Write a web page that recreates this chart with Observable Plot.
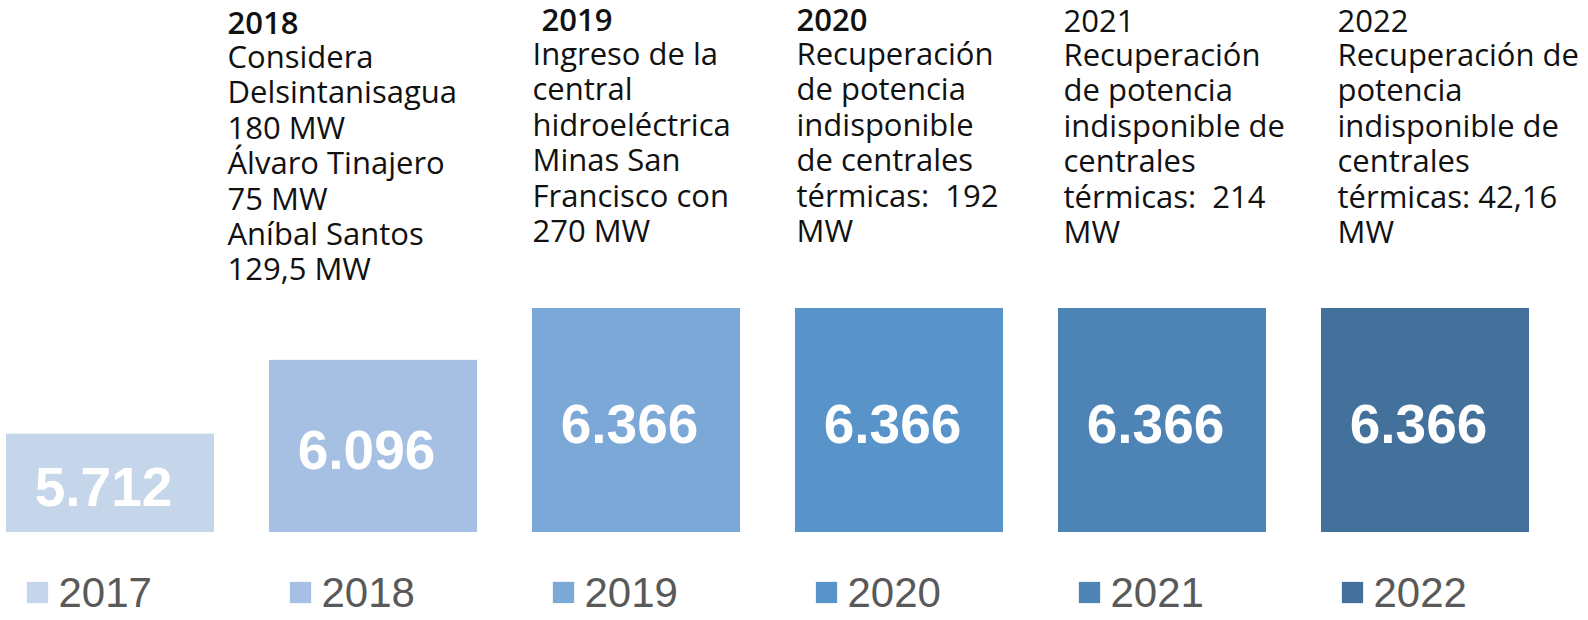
<!DOCTYPE html>
<html><head><meta charset="utf-8">
<script src="https://cdn.jsdelivr.net/npm/d3@7"></script>
<script src="https://cdn.jsdelivr.net/npm/@observablehq/plot@0.6"></script>
<style>body{margin:0;background:#fff} svg{display:block}</style>
</head><body><div id="chart"></div>
<script>
const years = ["2017", "2018", "2019", "2020", "2021", "2022"];
const values = [5.712, 6.096, 6.366, 6.366, 6.366, 6.366];
const valueLabels = ["5.712", "6.096", "6.366", "6.366", "6.366", "6.366"];
const colors = ["#c5d5ea", "#a5c0e3", "#7ca8d8", "#5893c9", "#4e84b5", "#43719b"];
const noteHeads = [null, "2018", "2019", "2020", "2021", "2022"];
const noteBodies = [
  null,
  "Considera\nDelsintanisagua\n180 MW\nÁlvaro Tinajero\n75 MW\nAníbal Santos\n129,5 MW",
  "Ingreso de la\ncentral\nhidroeléctrica\nMinas San\nFrancisco con\n270 MW",
  "Recuperación\nde potencia\nindisponible\nde centrales\ntérmicas:  192\nMW",
  "Recuperación\nde potencia\nindisponible de\ncentrales\ntérmicas:  214\nMW",
  "Recuperación de\npotencia\nindisponible de\ncentrales\ntérmicas: 42,16\nMW"
];

const data = years.map((year, i) => ({year, value: values[i], label: valueLabels[i]}));
const notes = years.map((year, i) => ({year, head: noteHeads[i], body: noteBodies[i]})).filter(d => d.head);

const yMin = 5.2;
const noteFont = 31;
const lineH = 35.4;
const noteDx = {"2018": -146, "2019": -104, "2020": -103, "2021": -99, "2022": -88};
const headDx = {"2019": 9};
const noteTop = {"2018": -297, "2019": -300, "2020": -300, "2021": -299, "2022": -299};
const boldHead = new Set(["2018", "2019", "2020"]);

const noteMarks = notes.flatMap(d => [
  Plot.text([d], {
    x: "year", text: "head", frameAnchor: "top", lineAnchor: "top",
    dy: noteTop[d.year], dx: noteDx[d.year] + (headDx[d.year] || 0),
    textAnchor: "start", fontSize: noteFont, fontWeight: boldHead.has(d.year) ? 600 : 400,
    fontFamily: "Open Sans", fill: "#111"
  }),
  Plot.text([d], {
    x: "year", text: "body", frameAnchor: "top", lineAnchor: "top",
    dy: noteTop[d.year] + lineH - 4, dx: noteDx[d.year],
    textAnchor: "start", fontSize: noteFont, lineHeight: lineH / noteFont,
    fontFamily: "Open Sans", fill: "#111"
  })
]);

const chart = Plot.plot({
  width: 1588,
  height: 620,
  marginTop: 308,
  marginBottom: 88,
  marginLeft: 4,
  marginRight: 58,
  style: {background: "#fff"},
  x: {domain: years, paddingInner: 0.211, paddingOuter: 0, axis: null},
  y: {domain: [yMin, d3.max(values)], axis: null},
  color: {domain: years, range: colors},
  marks: [
    Plot.barY(data, {x: "year", y1: yMin, y2: "value", fill: "year"}),
    Plot.text(data, {
      x: "year", y: d => (d.value + yMin) / 2, text: "label", dy: 5, dx: -7,
      fill: "white", fontSize: 55, fontWeight: "bold", fontFamily: "Liberation Sans, Arial, sans-serif"
    }),
    Plot.dot(data, {x: "year", frameAnchor: "bottom", dy: 60, dx: -73, symbol: "square", r: 12, fill: "year"}),
    Plot.text(data, {
      x: "year", text: "year", frameAnchor: "bottom", dy: 74, dx: -52, textAnchor: "start",
      fontSize: 42, fill: "#595959", fontFamily: "Liberation Sans, Arial, sans-serif"
    }),
    ...noteMarks
  ]
});
document.getElementById("chart").appendChild(chart);
</script>
</body></html>
